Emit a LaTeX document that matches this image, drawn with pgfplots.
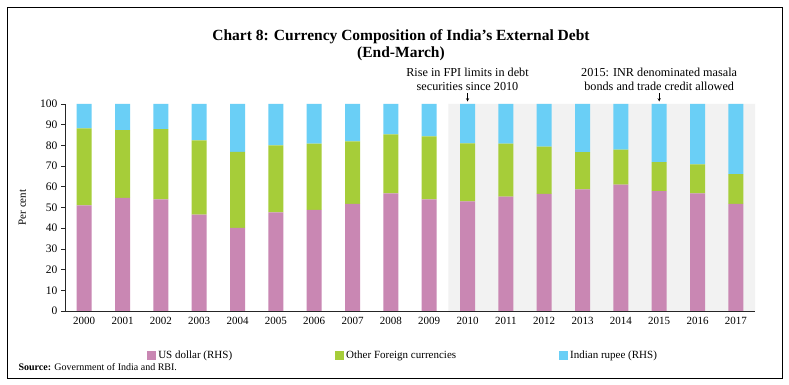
\documentclass[border=0pt]{standalone}
\usepackage{pgfplots}
\pgfplotsset{compat=1.18}
\usepackage{pgfplotstable}
\usepackage{fontspec}
\setmainfont{Liberation Serif}
\definecolor{cpink}{HTML}{C987B3}
\definecolor{cgreen}{HTML}{A6CD39}
\definecolor{cblue}{HTML}{6ACFF6}
\definecolor{cband}{HTML}{F2F2F2}
\pgfplotstableread{
x year usd other inr
0 2000 51.0 37.2 11.8
1 2001 54.7 32.7 12.6
2 2002 53.9 34.0 12.1
3 2003 46.5 35.9 17.6
4 2004 40.2 36.7 23.1
5 2005 47.6 32.4 20.0
6 2006 48.9 31.9 19.2
7 2007 51.8 30.1 18.1
8 2008 56.8 28.5 14.7
9 2009 53.9 30.5 15.6
10 2010 52.9 28.1 19.0
11 2011 55.2 25.6 19.2
12 2012 56.6 22.8 20.6
13 2013 58.7 18.1 23.2
14 2014 61.0 16.9 22.1
15 2015 57.9 14.0 28.1
16 2016 56.8 14.0 29.2
17 2017 51.8 14.3 33.9
}\datatable
\begin{document}
\begin{tikzpicture}
\useasboundingbox (0pt,0pt) rectangle (789pt,385pt);
\fill[white] (0pt,0pt) rectangle (789pt,385pt);
\draw[line width=0.8pt] (7pt,7pt) rectangle (782pt,378pt);
\node[font=\bfseries\fontsize{15.5}{17}\selectfont, align=center] at (401pt,340pt) {Chart 8: Currency Composition of India's External Debt\\(End-March)};
% background band
\begin{axis}[
  at={(65pt,74pt)}, anchor=south west,
  scale only axis, width=690pt, height=207pt,
  xmin=-0.5, xmax=17.5, ymin=0, ymax=100,
  hide axis,
]
\addplot[draw=none, fill=cband] coordinates {(9.5,0) (17.5,0) (17.5,100) (9.5,100)} \closedcycle;
\end{axis}
\begin{axis}[
  at={(65pt,74pt)}, anchor=south west,
  scale only axis, width=690pt, height=207pt,
  ybar stacked, bar width=15pt,
  xmin=-0.5, xmax=17.5, ymin=0, ymax=100,
  clip=false,
  axis lines*=left,
  axis line style={line width=0.6pt, black!85},
  xtick={0,...,17},
  xticklabels={2000,2001,2002,2003,2004,2005,2006,2007,2008,2009,2010,2011,2012,2013,2014,2015,2016,2017},
  major x tick style={draw=none},
  extra x ticks={-0.5,0.5,...,17.5},
  extra x tick labels={},
  extra x tick style={major tick length=5pt, tick style={draw=black!85, line width=0.6pt}},
  ytick={0,10,...,100},
  tick align=outside,
  major tick length=4pt,
  tick style={line width=0.6pt, black!85},
  /pgf/number format/assume math mode=true,
  ticklabel style={font=\fontsize{11}{12}\selectfont},
  yticklabel style={font=\fontsize{11.5}{12}\selectfont},
  xticklabel style={yshift=1pt},
  ylabel={Per cent},
  ylabel style={at={(axis description cs:-0.062,0.5)}, anchor=center, font=\fontsize{11}{12}\selectfont},
  legend columns=3,
  legend style={draw=none, fill=none, at={(0.49,-0.2126)}, anchor=center,
    font=\fontsize{11}{12}\selectfont,
    /tikz/every even column/.append style={column sep=101pt}},
  legend image code/.code={\fill[#1] (0pt,-4.5pt) rectangle (9pt,4.5pt);},
]
\addplot[fill=cpink, draw=none] table[x=x, y=usd] {\datatable};
\addlegendentry{US dollar (RHS)}
\addplot[fill=cgreen, draw=none] table[x=x, y=other] {\datatable};
\addlegendentry{Other Foreign currencies}
\addplot[fill=cblue, draw=none] table[x=x, y=inr] {\datatable};
\addlegendentry{Indian rupee (RHS)}
\node[anchor=south, align=center, inner sep=1pt, font=\fontsize{12.2}{14}\selectfont] at (axis cs:10,105.8) {Rise in FPI limits in debt\\securities since 2010};
\node[anchor=south, align=center, inner sep=1pt, font=\fontsize{12.2}{14}\selectfont] at (axis cs:15,105.8) {2015: INR denominated masala\\bonds and trade credit allowed};
\draw[-stealth, line width=0.5pt] (axis cs:10,105.3) -- (axis cs:10,101.2);
\draw[-stealth, line width=0.5pt] (axis cs:15,105.3) -- (axis cs:15,101.2);
\end{axis}
\node[anchor=base west, font=\fontsize{10}{12}\selectfont] at (15pt,14pt) {\textbf{Source:} Government of India and RBI.};
\end{tikzpicture}
\end{document}
